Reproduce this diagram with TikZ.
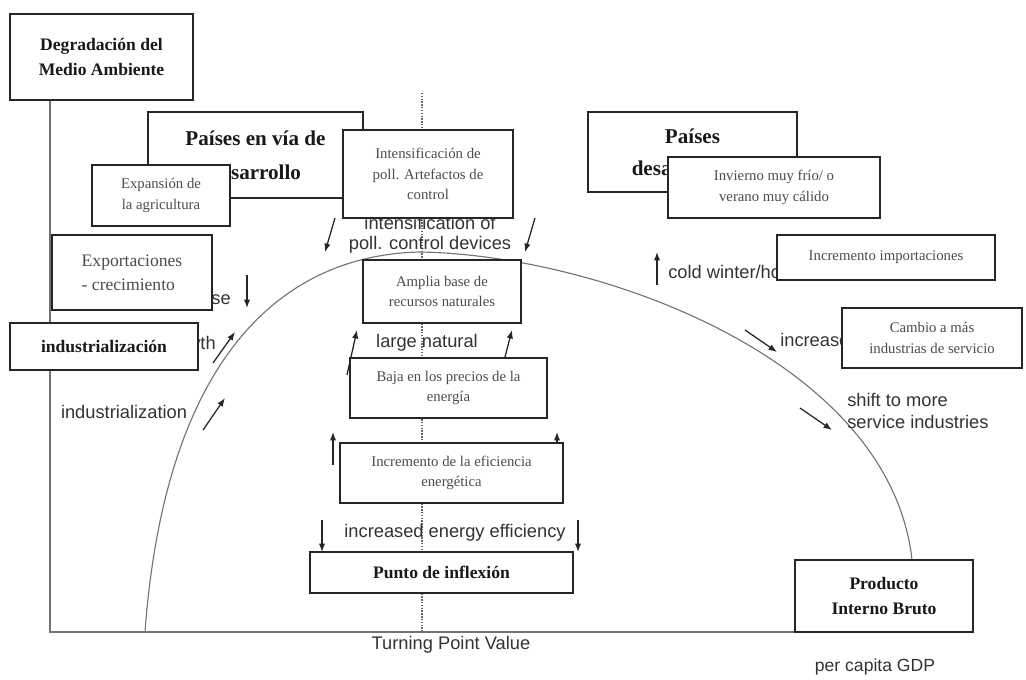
\documentclass[tikz,border=0pt]{standalone}
\usepackage{fontspec}
\setmainfont{Liberation Serif}
\setsansfont{Liberation Sans}
\usepackage{tikz}
\usetikzlibrary{positioning,arrows.meta,calc}

\tikzset{
  caja/.style={draw=black!85, line width=1.1pt, fill=white, inner sep=2pt},
  titulo/.style={caja, font=\bfseries\fontsize{12.5}{17.5}\selectfont, text=black!90, align=center},
  nota/.style={caja, font=\fontsize{10.5}{14.5}\selectfont, text=black!70, align=center},
  etiq/.style={font=\sffamily\fontsize{13}{15}\selectfont, text=black!80, align=center, inner sep=0pt},
  flecha/.style={-{Latex[length=6pt,width=4.5pt]}, line width=0.9pt, black!85},
  eje/.style={black!55, line width=0.8pt},
}

\begin{document}
\begin{tikzpicture}[x={(0.025cm,0cm)},y={(0cm,-0.025cm)}]
\useasboundingbox (0,0) rectangle (1026,679);

% axes, dotted turning point line, curve
\coordinate (origen) at (50,632);
\coordinate (cima) at (422,93);
\draw[black!60, line width=1pt, densely dotted] (cima) -- (cima |- origen);
\draw[eje] (50,100) -- (origen) -- (795,632);
\draw[eje] (145,632) .. controls (165,360) and (280,255) .. (420,252)
                     .. controls (600,255) and (890,360) .. (912,560);

% english labels
\node[etiq, font=\sffamily\fontsize{13}{14}\selectfont] (tIntens) at (430,235) {intensification of\\poll. control devices};
\node[etiq] (tNatural) at (427,343) {large natural};
\node[etiq] (tEffic) at (455,533) {increased energy efficiency};
\node[etiq] (tTurning) at (451,645) {Turning Point Value};
\node[etiq, font=\sffamily\fontsize{12.5}{15}\selectfont] (tGdp) at (875,667) {per capita GDP};
\node[etiq, anchor=west] (tCold) at (668,272) {cold winter/hot summer};
\node[etiq, anchor=west] (tImports) at (780,342) {increased imports};
\node[etiq, anchor=west, align=left] (tShift) at (847,411) {shift to more\\service industries};
\node[etiq, anchor=east] (tExport) at (231,300) {export base};
\node[etiq, anchor=east] (tGrowth) at (216,345) {export growth};
\node[etiq] (tIndus) at (124,412) {industrialization};

% small arrows
\draw[flecha] (335,218) -- (325,252);
\draw[flecha] (535,218) -- (525,252);
\draw[flecha] (347,375) -- (357,330);
\draw[flecha] (505,357) -- (512,330);
\draw[flecha] (333,465) -- (333,432);
\draw[flecha] (557,450) -- (557,432);
\draw[flecha] (322,520) -- (322,552);
\draw[flecha] (578,520) -- (578,552);
\draw[flecha] (657,285) -- (657,252);
\draw[flecha] (745,330) -- (777,352);
\draw[flecha] (800,408) -- (832,430);
\draw[flecha] (247,275) -- (247,308);
\draw[flecha] (213,363) -- (235,332);
\draw[flecha] (203,430) -- (225,398);

% boxes
\node[titulo, minimum width=4.575cm, minimum height=2.15cm] (degr) at (101.5,57) {Degradación del\\Medio Ambiente};
\node[titulo, font=\bfseries\fontsize{15}{24}\selectfont, minimum width=5.375cm, minimum height=2.15cm] (devng) at (255.5,155) {Países en vía de\\desarrollo};
\node[nota, minimum width=3.45cm, minimum height=1.525cm] (agri) at (161,195.5) {Expansión de\\la agricultura};
\node[nota, minimum width=4.25cm, minimum height=2.2cm] (intens) at (428,174) {Intensificación de\\poll. Artefactos de\\control};
\node[nota, minimum width=3.95cm, minimum height=1.575cm] (recur) at (442,291.5) {Amplia base de\\recursos naturales};
\node[nota, minimum width=4.925cm, minimum height=1.5cm] (precio) at (448.5,388) {Baja en los precios de la\\energía};
\node[nota, minimum width=5.575cm, minimum height=1.5cm] (efic) at (451.5,473) {Incremento de la eficiencia\\energética};
\node[titulo, minimum width=6.575cm, minimum height=1.025cm] (inflex) at (441.5,572.5) {Punto de inflexión};
\node[titulo, minimum width=4.45cm, minimum height=1.8cm] (pib) at (884,596) {Producto\\Interno Bruto};
\node[titulo, font=\bfseries\fontsize{15}{23}\selectfont, minimum width=5.225cm, minimum height=2cm] (desarr) at (692.5,152) {Países\\desarrollados};
\node[nota, minimum width=5.3cm, minimum height=1.525cm] (clima) at (774,187.5) {Invierno muy frío/ o\\verano muy cálido};
\node[nota, minimum width=5.45cm, minimum height=1.125cm] (import) at (886,257.5) {Incremento importaciones};
\node[nota, minimum width=4.5cm, minimum height=1.5cm] (servic) at (932,338) {Cambio a más\\industrias de servicio};
\node[nota, font=\fontsize{12.5}{17}\selectfont, align=left, minimum width=4cm, minimum height=1.875cm] (export) at (132,272.5) {Exportaciones\\- crecimiento};
\node[titulo, minimum width=4.7cm, minimum height=1.175cm] (indus) at (104,346.5) {industrialización};
\end{tikzpicture}
\end{document}
